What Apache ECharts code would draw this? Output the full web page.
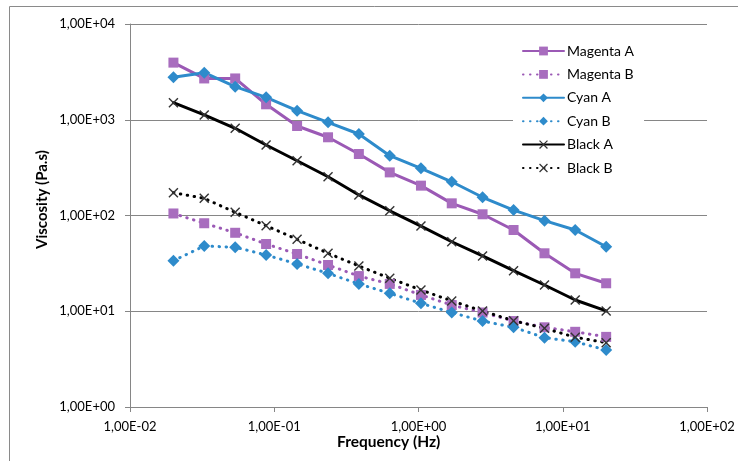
<!DOCTYPE html>
<html>
<head>
<meta charset="UTF-8" />
<title>Viscosity vs Frequency</title>
<script src="https://cdn.jsdelivr.net/npm/echarts@6/dist/echarts.min.js"></script>
<style>
    body { margin: 0; background: #fff; }
    #chart { width: 738px; height: 461px; }
</style>
</head>
<body>
<div id="chart"></div>
<script>
    // frequencies (Hz)
    const frequency = [0.02, 0.0327, 0.0536, 0.0878, 0.144, 0.236, 0.386, 0.632, 1.04, 1.70, 2.78, 4.56, 7.47, 12.2, 20.0];

    // viscosity (Pa.s)
    const magentaA = [3950, 2700, 2700, 1450, 860, 656, 439, 282, 205, 134, 103, 70.6, 40.3, 24.9, 19.6];
    const magentaB = [105, 83, 66, 50.4, 39.6, 30.4, 23.3, 19.3, 14.8, 11.6, 9.7, 7.9, 6.8, 6.1, 5.4];
    const cyanA = [2775, 3100, 2215, 1715, 1244, 940, 710, 421, 311, 225, 155, 114, 88.3, 70.6, 47.2];
    const cyanB = [33.7, 48, 46.6, 38.7, 31.2, 24.9, 19.3, 15.4, 12.1, 9.7, 7.9, 6.8, 5.3, 4.8, 3.94];
    const blackA = [1507, 1122, 815, 545, 373, 254, 164, 112, 77.6, 53.2, 37.8, 26.5, 18.8, 13.1, 10.07];
    const blackB = [173, 151, 108, 78.3, 56.4, 40.3, 29.7, 22.1, 16.7, 12.8, 10.07, 7.97, 6.64, 5.35, 4.7];

    const FONT = 'Lato';
    const GREY = '#868686';
    const CROSS = 'path://M0,1L1,0L5,4L9,0L10,1L6,5L10,9L9,10L5,6L1,10L0,9L4,5Z';
    const DOTS = [0.5, 6.5];

    function pairs(values) {
        return values.map((v, i) => [frequency[i], v]);
    }

    // Excel style scientific label: 1,00E+03
    function sciLabel(v) {
        const e = Math.round(Math.log10(v));
        const sign = e < 0 ? '-' : '+';
        const abs = Math.abs(e);
        return '1,00E' + sign + (abs < 10 ? '0' : '') + abs;
    }

    function makeSeries(name, values, color, markColor, symbol, size, dotted) {
        return {
            name: name,
            type: 'line',
            data: pairs(values),
            symbol: symbol,
            symbolSize: size,
            showAllSymbol: true,
            lineStyle: {
                color: color,
                width: 3,
                type: dotted ? DOTS : 'solid',
                cap: 'round'
            },
            itemStyle: { color: markColor },
            emphasis: { disabled: true },
            animation: false
        };
    }

    const chart = echarts.init(document.getElementById('chart'));

    chart.setOption({
        animation: false,
        textStyle: { fontFamily: FONT },
        grid: { left: 130, right: 31, top: 24, bottom: 54 },
        legend: {
            left: 513,
            top: 39,
            orient: 'vertical',
            backgroundColor: '#fff',
            padding: [5, 10, 5, 9],
            itemWidth: 41,
            itemHeight: 11,
            itemGap: 9.4,
            textStyle: { fontFamily: FONT, fontSize: 14, color: '#000', padding: [0, 0, 0, -2] },
            data: ['Magenta A', 'Magenta B', 'Cyan A', 'Cyan B', 'Black A', 'Black B']
        },
        xAxis: {
            type: 'log',
            logBase: 10,
            min: 0.01,
            max: 100,
            axisLine: { show: true, lineStyle: { color: GREY } },
            axisTick: { show: true, length: 5, inside: false, lineStyle: { color: GREY } },
            axisLabel: { formatter: sciLabel, fontFamily: FONT, fontSize: 13, color: '#000', margin: 13 },
            splitLine: { show: false },
            minorTick: { show: false }
        },
        yAxis: {
            type: 'log',
            logBase: 10,
            min: 1,
            max: 10000,
            axisLine: { show: true, lineStyle: { color: GREY } },
            axisTick: { show: true, length: 5, lineStyle: { color: GREY } },
            axisLabel: { formatter: sciLabel, fontFamily: FONT, fontSize: 13, color: '#000', margin: 15 },
            splitLine: { show: true, lineStyle: { color: GREY, width: 1 } }
        },
        graphic: [
            {
                type: 'rect',
                shape: { x: 9.5, y: 6.5, width: 800, height: 500 },
                style: { fill: 'none', stroke: '#8a8a8a', lineWidth: 1 },
                silent: true
            },
            {
                type: 'text',
                x: 337,
                y: 434,
                style: {
                    text: 'Frequency (Hz)',
                    fontFamily: FONT, fontSize: 15.5, fontWeight: 'bold',
                    fill: '#000', textVerticalAlign: 'top'
                }
            },
            {
                type: 'text',
                x: 35,
                y: 249,
                rotation: Math.PI / 2,
                style: {
                    text: 'Viscosity (Pa.s)',
                    fontFamily: FONT, fontSize: 15, fontWeight: 'bold',
                    fill: '#000', textVerticalAlign: 'top'
                }
            }
        ],
        series: [
            makeSeries('Magenta A', magentaA, '#9B59B5', '#A86DBE', 'rect', 10, false),
            makeSeries('Magenta B', magentaB, '#9B59B5', '#A86DBE', 'rect', 10, true),
            makeSeries('Cyan A', cyanA, '#2E8BCB', '#2E8BCB', 'diamond', 12, false),
            makeSeries('Cyan B', cyanB, '#2E8BCB', '#2E8BCB', 'diamond', 12, true),
            makeSeries('Black A', blackA, '#000', '#333', CROSS, 10, false),
            makeSeries('Black B', blackB, '#000', '#333', CROSS, 10, true)
        ]
    });
</script>
</body>
</html>
